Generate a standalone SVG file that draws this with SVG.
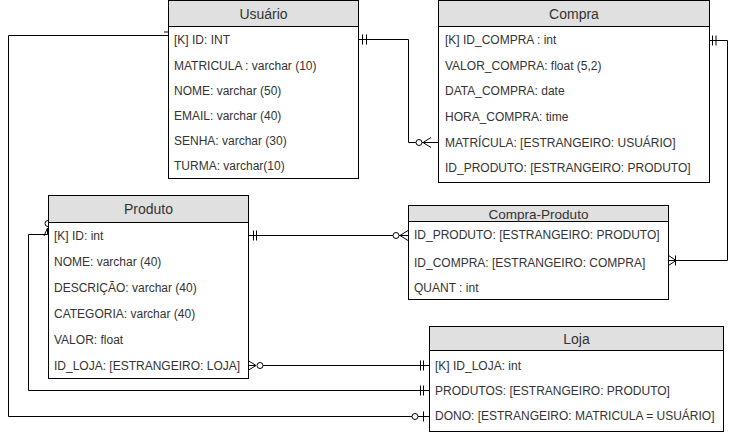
<svg xmlns="http://www.w3.org/2000/svg" width="738" height="433" viewBox="0 0 738 433">
<style>
.box{fill:#fff;stroke:#000;stroke-width:1}
.hdr{fill:#e0e0e0;stroke:#000;stroke-width:1}
.t{font-family:"Liberation Sans",Arial,sans-serif;font-size:12px;fill:#333}
.h{font-family:"Liberation Sans",Arial,sans-serif;font-size:14px;fill:#333;text-anchor:middle}
.c{fill:none;stroke:#000;stroke-width:1}
.o{fill:#fff;stroke:#000;stroke-width:1}
</style>
<rect width="738" height="433" fill="#fff"/>
<g id="connectors">
  <!-- Usuario ID left -> Loja DONO -->
  <path class="c" d="M172,35.5 H8.5 V416.5 H412"/>
  <path class="c" d="M164,32 H172"/>
  <path class="c" d="M418,416.5 H429 M423.5,411.5 V421.5"/>
  <circle class="o" cx="415" cy="416.5" r="3"/>
  <!-- Usuario ID right -> Compra MATRICULA -->
  <path class="c" d="M358,39.5 H408.5 V142.5 H416"/>
  <path class="c" d="M362.5,34.5 V44.5 M366.5,34.5 V44.5"/>
  <path class="c" d="M422,142.5 H438 M431,137.5 L423,142.5 L431,147.5"/>
  <circle class="o" cx="419" cy="142.5" r="3"/>
  <!-- Compra ID right -> Compra-Produto ID_COMPRA -->
  <path class="c" d="M709,40.5 H727.5 V260.5 H668"/>
  <path class="c" d="M712.5,35.5 V45.5 M716,35.5 V45.5"/>
  <path class="c" d="M668.5,255.5 L676,260.5 L668.5,265.5 M675.5,255.5 V265.5"/>
  <!-- Produto ID right -> Compra-Produto ID_PRODUTO -->
  <path class="c" d="M248,235.5 H393"/>
  <path class="c" d="M253.5,230.5 V240.5 M256.5,230.5 V240.5"/>
  <path class="c" d="M399,235.5 H408 M408,230.5 L400,235.5 L408,240.5"/>
  <circle class="o" cx="396" cy="235.5" r="3"/>
  <!-- Produto ID_LOJA -> Loja ID_LOJA -->
  <path class="c" d="M248,365.5 H256 M248,360.5 L256,365.5 L248,370.5"/>
  <circle class="o" cx="260" cy="365.5" r="3"/>
  <path class="c" d="M263,365.5 H429"/>
  <path class="c" d="M420.5,360.5 V370.5 M423.5,360.5 V370.5"/>
  <!-- Loja PRODUTOS -> Produto ID left -->
  <path class="c" d="M429,390.5 H28.5 V234.5 H47.5 V228"/>
  <path class="c" d="M420.5,385.5 V395.5 M423.5,385.5 V395.5"/>
  <path class="c" d="M44,236 L47.5,228 L51,236"/>
  <circle class="o" cx="48" cy="223.5" r="3"/>
</g>
<g id="usuario">
  <rect class="box" x="168.5" y="0.5" width="190" height="178"/>
  <rect class="hdr" x="168.5" y="0.5" width="190" height="26"/>
  <text class="h" x="263.5" y="19">Usuário</text>
  <text class="t" x="174" y="44">[K] ID: INT</text>
  <text class="t" x="174" y="70">MATRICULA : varchar (10)</text>
  <text class="t" x="174" y="95">NOME: varchar (50)</text>
  <text class="t" x="174" y="120">EMAIL: varchar (40)</text>
  <text class="t" x="174" y="145">SENHA: varchar (30)</text>
  <text class="t" x="174" y="170">TURMA: varchar(10)</text>
</g>
<g id="compra">
  <rect class="box" x="438.5" y="0.5" width="271" height="182"/>
  <rect class="hdr" x="438.5" y="0.5" width="271" height="26"/>
  <text class="h" x="574" y="19">Compra</text>
  <text class="t" x="445" y="44">[K] ID_COMPRA : int</text>
  <text class="t" x="445" y="70">VALOR_COMPRA: float (5,2)</text>
  <text class="t" x="445" y="95">DATA_COMPRA: date</text>
  <text class="t" x="445" y="121">HORA_COMPRA: time</text>
  <text class="t" x="445" y="147">MATRÍCULA: [ESTRANGEIRO: USUÁRIO]</text>
  <text class="t" x="445" y="172">ID_PRODUTO: [ESTRANGEIRO: PRODUTO]</text>
</g>
<g id="produto">
  <rect class="box" x="48.5" y="195.5" width="200" height="183"/>
  <rect class="hdr" x="48.5" y="195.5" width="200" height="27"/>
  <text class="h" x="148.5" y="214">Produto</text>
  <text class="t" x="54" y="240">[K] ID: int</text>
  <text class="t" x="54" y="266">NOME: varchar (40)</text>
  <text class="t" x="54" y="292">DESCRIÇÃO: varchar (40)</text>
  <text class="t" x="54" y="318">CATEGORIA: varchar (40)</text>
  <text class="t" x="54" y="344">VALOR: float</text>
  <text class="t" x="54" y="370">ID_LOJA: [ESTRANGEIRO: LOJA]</text>
</g>
<g id="compra-produto">
  <rect class="box" x="408.5" y="205.5" width="260" height="94"/>
  <rect class="hdr" x="408.5" y="205.5" width="260" height="16"/>
  <text class="h" x="538.5" y="218.5" style="font-size:13.5px">Compra-Produto</text>
  <text class="t" x="414" y="239">ID_PRODUTO: [ESTRANGEIRO: PRODUTO]</text>
  <text class="t" x="414" y="267">ID_COMPRA: [ESTRANGEIRO: COMPRA]</text>
  <text class="t" x="414" y="292">QUANT : int</text>
</g>
<g id="loja">
  <rect class="box" x="429.5" y="326.5" width="294" height="105"/>
  <rect class="hdr" x="429.5" y="326.5" width="294" height="24"/>
  <text class="h" x="576.5" y="344">Loja</text>
  <text class="t" x="435" y="370">[K] ID_LOJA: int</text>
  <text class="t" x="435" y="395">PRODUTOS: [ESTRANGEIRO: PRODUTO]</text>
  <text class="t" x="435" y="420">DONO: [ESTRANGEIRO: MATRICULA = USUÁRIO]</text>
</g>
</svg>
